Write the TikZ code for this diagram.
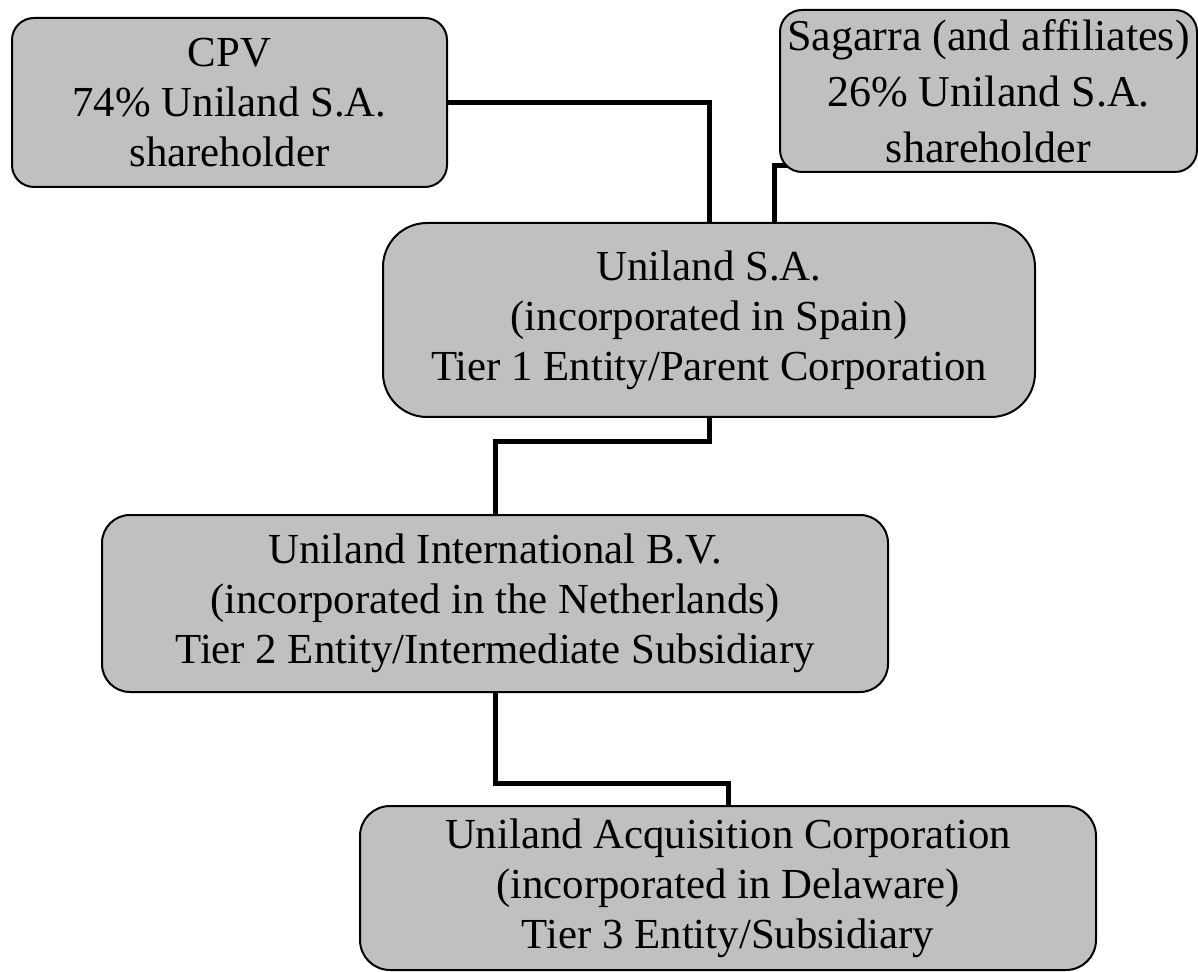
\documentclass[tikz,border=0pt]{standalone}
\usepackage{fontspec}
\setmainfont{Liberation Serif}
\usetikzlibrary{backgrounds}
\definecolor{boxgray}{RGB}{192,192,192}
\begin{document}
\begin{tikzpicture}[x=0.5pt,y=-0.5pt,
	box/.style={draw,line width=1pt,fill=boxgray,rounded corners=11pt,align=center,inner sep=0pt,font=\fontsize{21.4}{25}\selectfont},
	link/.style={line width=2.5pt}]
	\useasboundingbox (0,0) rectangle (1198,972);
	
	\node[box,minimum width=217.5pt,minimum height=84.5pt] (cpv) at (229.5,102.5) {CPV\\74\% Uniland S.A.\\shareholder};
	\node[box,minimum width=208.5pt,minimum height=81pt,font=\fontsize{22}{28}\selectfont] (sagarra) at (988.5,91) {Sagarra (and affiliates)\\26\% Uniland S.A.\\shareholder};
	\node[box,rounded corners=22pt,minimum width=326pt,minimum height=97pt] (unilandsa) at (709,320) {Uniland S.A.\\(incorporated in Spain)\\Tier 1 Entity/Parent Corporation};
	\node[box,rounded corners=14pt,minimum width=393pt,minimum height=88.5pt] (intl) at (495,603.5) {Uniland International B.V.\\(incorporated in the Netherlands)\\Tier 2 Entity/Intermediate Subsidiary};
	\node[box,rounded corners=15pt,minimum width=368pt,minimum height=82pt] (acq) at (728,888) {Uniland Acquisition Corporation\\(incorporated in Delaware)\\Tier 3 Entity/Subsidiary};
	
	\begin{scope}[on background layer]
		\draw[link] (cpv.east) -| (unilandsa.north);
		\draw[link] ([xshift=5pt,yshift=3.5pt]sagarra.south west) -| ([xshift=32.5pt]unilandsa.north);
		\draw[link] (unilandsa.south) -- ++(0,24) -| (intl.north);
		\draw[link] (intl.south) -- ++(0,90) -| (acq.north);
	\end{scope}
\end{tikzpicture}
\end{document}
